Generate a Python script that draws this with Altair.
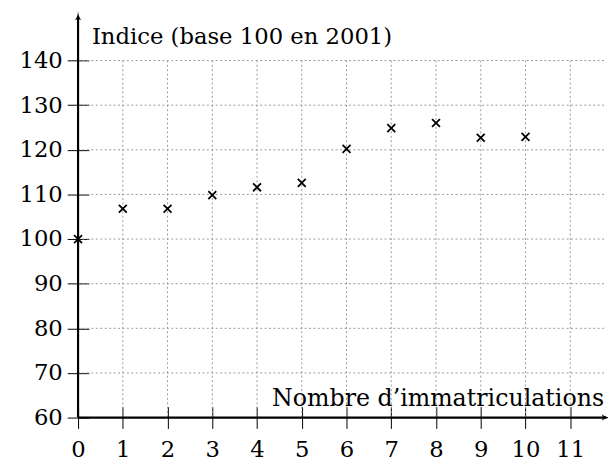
import altair as alt
import pandas as pd

# data
x_vals = [0, 1, 2, 3, 4, 5, 6, 7, 8, 9, 10]
y_vals = [100, 106.8, 106.8, 109.85, 111.6, 112.6, 120.2, 124.85, 126.0, 122.7, 122.9]
x_ticks = list(range(0, 12))
y_ticks = list(range(60, 141, 10))
x_grid = list(range(1, 12))
y_grid = list(range(70, 141, 10))
x_title = "Nombre d’immatriculations"
y_title = "Indice (base 100 en 2001)"

XMAX = 11.8
YMIN, YMAX = 60, 150
FONT = "DejaVu Serif"
FS = 23
W, H = 535, 407

xs = alt.Scale(domain=[0, XMAX], nice=False, zero=False)
ys = alt.Scale(domain=[YMIN, YMAX], nice=False, zero=False)

pts = pd.DataFrame({"x": x_vals, "y": y_vals})
vg = pd.DataFrame({"x": x_grid, "y0": [60] * len(x_grid), "y1": [140] * len(x_grid)})
hg = pd.DataFrame({"y": y_grid, "x0": [0] * len(y_grid), "x1": [XMAX] * len(y_grid)})

grid_style = dict(color="#999999", strokeWidth=1, strokeDash=[2, 2.5])

xaxis = alt.Axis(values=x_ticks, offset=-11, tickSize=22, tickWidth=1, tickColor="black",
                 domain=False, grid=False, labelFont=FONT, labelFontSize=FS,
                 labelColor="black", labelPadding=10, labelFlush=False,
                 labelOverlap=False, title=None)
yaxis = alt.Axis(values=y_ticks, offset=-11, tickSize=22, tickWidth=1, tickColor="black",
                 domain=False, grid=False, labelFont=FONT, labelFontSize=FS,
                 labelColor="black", labelPadding=5, labelFlush=False,
                 labelOverlap=False, title=None)

vgrid = alt.Chart(vg).mark_rule(**grid_style).encode(
    x=alt.X("x:Q", scale=xs, axis=xaxis),
    y=alt.Y("y0:Q", scale=ys, axis=yaxis),
    y2="y1:Q",
)
hgrid = alt.Chart(hg).mark_rule(**grid_style).encode(
    x=alt.X("x0:Q", scale=xs),
    x2="x1:Q",
    y=alt.Y("y:Q", scale=ys),
)

axes_df = pd.DataFrame({"x0": [0, 0], "x1": [XMAX, 0], "y0": [YMIN, YMIN], "y1": [YMIN, YMAX]})
axes = alt.Chart(axes_df).mark_rule(color="black", strokeWidth=2.2).encode(
    x=alt.X("x0:Q", scale=xs), x2="x1:Q",
    y=alt.Y("y0:Q", scale=ys), y2="y1:Q",
)

arrows_df = pd.DataFrame({"x": [XMAX, 0], "y": [YMIN, YMAX], "a": [90, 0]})
arrows = alt.Chart(arrows_df).mark_point(
    shape="M-0.7,0.9 Q-0.1,0.3 0,-1 Q0.1,0.3 0.7,0.9 Q0,0.5 -0.7,0.9 Z",
    filled=True, color="black", size=90, opacity=1,
).encode(
    x=alt.X("x:Q", scale=xs), y=alt.Y("y:Q", scale=ys),
    angle=alt.Angle("a:Q", scale=None),
)

points = alt.Chart(pts).mark_point(
    shape="M-1,-1L1,1M1,-1L-1,1", color="black", size=64, strokeWidth=1.8, opacity=1,
).encode(x=alt.X("x:Q", scale=xs), y=alt.Y("y:Q", scale=ys))

tdf = pd.DataFrame({"t": [y_title, x_title]})
ytitle = alt.Chart(tdf.iloc[[0]]).mark_text(
    font=FONT, fontSize=FS, align="left", baseline="alphabetic", color="black"
).encode(text="t:N", x=alt.value(14), y=alt.value(28))
xtitle = alt.Chart(tdf.iloc[[1]]).mark_text(
    font=FONT, fontSize=24, align="right", baseline="alphabetic", color="black"
).encode(text="t:N", x=alt.value(W - 2), y=alt.value(H - 12))

chart = alt.layer(vgrid, hgrid, axes, arrows, points, ytitle, xtitle).properties(
    width=W, height=H,
    autosize=alt.AutoSizeParams(type="none"),
    padding={"left": 71, "top": 5, "right": 2, "bottom": 44},
).configure_view(stroke=None)

chart.save("out.html", embed_options={"renderer": "svg", "actions": False})
